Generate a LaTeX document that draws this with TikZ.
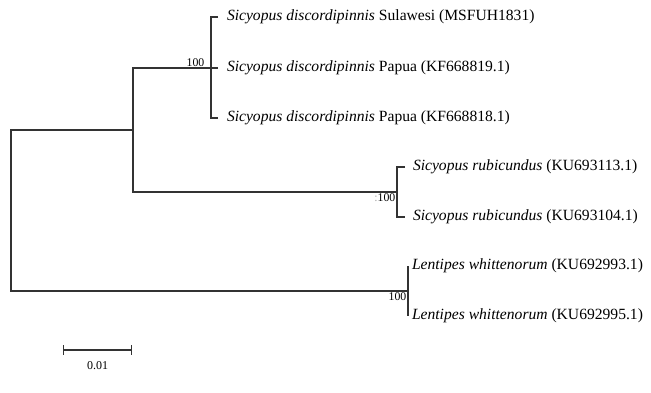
\documentclass[tikz,border=0pt]{standalone}
\usepackage{fontspec}
\setmainfont{Liberation Serif}
\begin{document}
\begin{tikzpicture}[x = 1pt, y = -1pt,
		branch/.style = {line width = 1.3pt, draw = black!80},
		tip/.style = {anchor = west, inner sep = 0pt, font = \fontsize{15.6}{18}\selectfont, text height = 10pt, text depth = 3pt},
		boot/.style = {inner sep = 1.5pt, font = \fontsize{11.8}{13}\selectfont}]
		\useasboundingbox (0,0) rectangle (651,392);
		% inner nodes of the tree
		\coordinate (root) at (11,210.5);
		\coordinate (ingroup) at (133,130);
		\coordinate (discord) at (211,68);
		\coordinate (rubic) at (397,192);
		\coordinate (lentip) at (408,291);
		%
		\node (t1) [tip, outer sep = 9pt] at (218,17){\textit{Sicyopus discordipinnis} Sulawesi (MSFUH1831)
		};
		\node (t2) [tip, outer sep = 9pt] at (218,68){\textit{Sicyopus discordipinnis} Papua (KF668819.1)
		};
		\node (t3) [tip, outer sep = 9pt] at (218,118){\textit{Sicyopus discordipinnis} Papua (KF668818.1)
		};
		\node (t4) [tip, outer sep = 8pt] at (405,167){\textit{Sicyopus rubicundus} (KU693113.1)
		};
		\node (t5) [tip, outer sep = 8pt] at (405,217){\textit{Sicyopus rubicundus} (KU693104.1)
		};
		\node (t6) [tip, outer sep = 4pt] at (408,266){\textit{Lentipes whittenorum} (KU692993.1)
		};
		\node (t7) [tip, outer sep = 4pt] at (408,316){\textit{Lentipes whittenorum} (KU692995.1)
		};
		%
		\draw [branch] (discord) -| (ingroup) |- (rubic);
		\draw [branch] (ingroup) -| (root) |- (lentip);
		\draw [branch] (discord) -- (t2.west);
		\draw [branch] (t1.west) -| (discord) |- (t3.west);
		\draw [branch] (t4.west) -| (rubic) |- (t5.west);
		\draw [branch] (t6.west) -| (lentip) |- (t7.west);
		%
		\node (b1) [boot, anchor = south east] at ([xshift = -5pt]discord){100
		};
		\node (b2) [boot, anchor = north east] at (rubic){{\color{black!35}:}100
		};
		\node (b3) [boot, anchor = north east] at (lentip){100
		};
		% scale bar
		\coordinate (sbl) at (63,350);
		\coordinate (sbr) at (132,350);
		\draw [branch, |-|] (sbl) -- (sbr) node (sbtext) [midway, below = 8pt, font = \fontsize{12}{14}\selectfont]{0.01
		};
	\end{tikzpicture}
\end{document}
